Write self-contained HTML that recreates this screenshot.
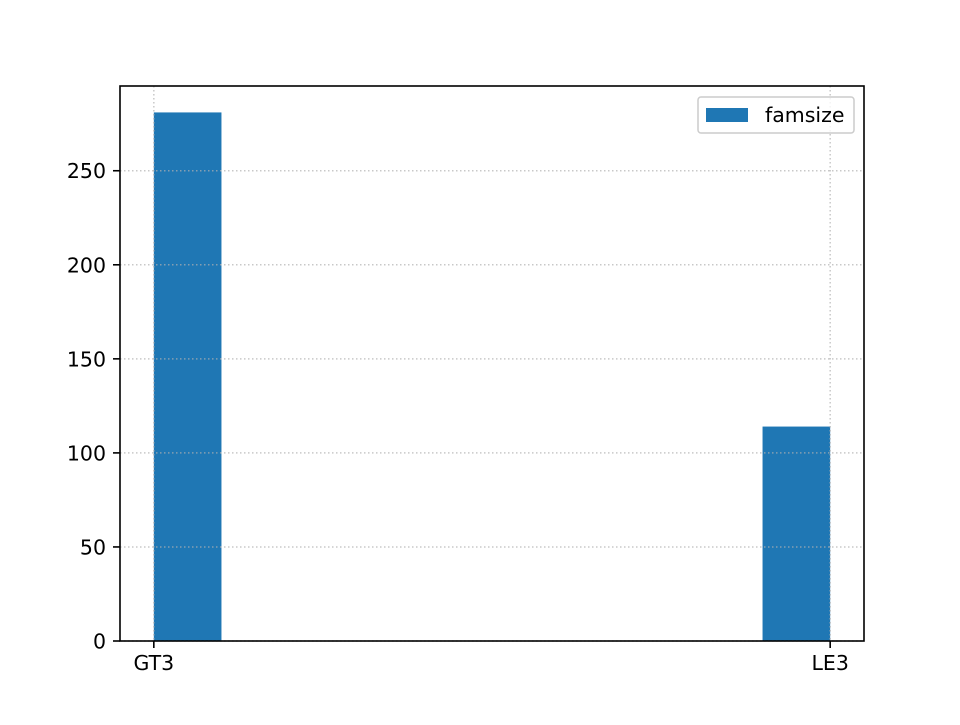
<!DOCTYPE html>
<html><head><meta charset="utf-8"><style>
body{margin:0;background:#fff;}
svg text{font-family:"DejaVu Sans","Liberation Sans",sans-serif;font-size:20.5px;fill:#000;}
</style></head><body>
<svg id="chart" width="960" height="720"></svg>
<script>
const categories = ["GT3", "LE3"];
const categoryPositions = [0, 1];
const counts = [281, 114];
const yTicks = [0, 50, 100, 150, 200, 250];
const seriesName = "famsize";

const L=120,R=864,T=86,B=641;
const xMin=-0.05,xMax=1.05,yMin=0,yMax=295.05;
const binW=0.1;
const sx=v=>L+(v-xMin)/(xMax-xMin)*(R-L);
const sy=v=>B-(v-yMin)/(yMax-yMin)*(B-T);
const svg=document.getElementById('chart');
const NS='http://www.w3.org/2000/svg';
function mk(tag,attrs,parent){const e=document.createElementNS(NS,tag);for(const k in attrs)e.setAttribute(k,attrs[k]);(parent||svg).appendChild(e);return e;}

counts.forEach((c,i)=>{
  const p=categoryPositions[i];
  const x0=p===categoryPositions[categoryPositions.length-1]?p-binW:p;
  const r=mk('rect',{x:sx(x0),y:sy(c),width:sx(x0+binW)-sx(x0),height:sy(0)-sy(c),fill:'#1f77b4'});
  
  
});
yTicks.forEach(t=>{
  const g=mk('line',{x1:L,x2:R,y1:sy(t),y2:sy(t),stroke:'#b0b0b0','stroke-width':1.5,'stroke-dasharray':'1.5,2.5','stroke-opacity':0.7});
  
  
});
categoryPositions.forEach(p=>{
  const g=mk('line',{x1:sx(p),x2:sx(p),y1:T,y2:B,stroke:'#b0b0b0','stroke-width':1.5,'stroke-dasharray':'1.5,2.5','stroke-opacity':0.7});
  
  
});
const f=mk('rect',{x:L,y:T,width:R-L,height:B-T,fill:'none',stroke:'#000','stroke-width':1.6});


yTicks.forEach(t=>{
  mk('line',{x1:L-7,x2:L,y1:sy(t),y2:sy(t),stroke:'#000','stroke-width':1.6});
  const tx=mk('text',{x:L-14,y:sy(t)+7.5,'text-anchor':'end'});
  tx.textContent=t;
  
  
});
categoryPositions.forEach((p,i)=>{
  mk('line',{x1:sx(p),x2:sx(p),y1:B,y2:B+7,stroke:'#000','stroke-width':1.6});
  const tx=mk('text',{x:sx(p),y:B+29,'text-anchor':'middle'});
  tx.textContent=categories[i];
  
  
});
const lg=mk('g',{});


mk('rect',{x:698,y:97,width:156,height:36,rx:3,fill:'#fff','fill-opacity':0.8,stroke:'#ccc','stroke-width':1.5},lg);
mk('rect',{x:706,y:108,width:42,height:14,fill:'#1f77b4'},lg);
const lt=mk('text',{x:765,y:122},lg);
lt.textContent=seriesName;


</script>
</body></html>
